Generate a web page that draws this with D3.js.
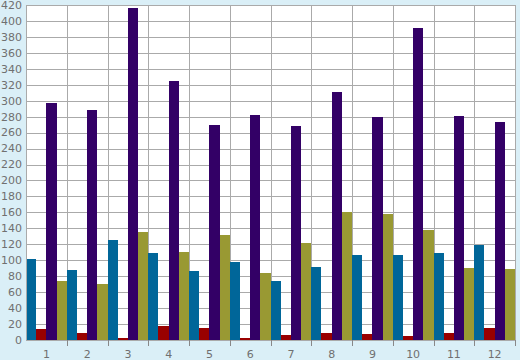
<!DOCTYPE html>
<html>
<head>
<meta charset="utf-8">
<script src="https://cdn.jsdelivr.net/npm/d3@7"></script>
<style>
  html, body { margin: 0; padding: 0; background: #daeff7; }
  svg { display: block; }
  text { font-family: "DejaVu Sans", sans-serif; font-size: 11px; fill: #707070; }
</style>
</head>
<body>
<script>
const categories = ["1","2","3","4","5","6","7","8","9","10","11","12"];
const blueValues   = [101, 88, 125, 109, 86, 98, 74, 92, 107, 107, 109, 119];
const redValues    = [14, 9, 3, 18, 15, 2, 6, 9, 8, 5, 9, 15];
const purpleValues = [297, 288, 416, 325, 270, 282, 268, 311, 280, 391, 281, 273];
const oliveValues  = [74, 70, 135, 110, 132, 84, 122, 160, 158, 138, 90, 89];
const yTicks = d3.range(0, 421, 20);

const seriesValues = [blueValues, redValues, purpleValues, oliveValues];
const colors = ["#006699", "#990000", "#330066", "#999933"];

const W = 520, H = 360;
const mLeft = 26, mRight = 515, mTop = 5, mBottom = 340;

const svg = d3.select("body").append("svg").attr("width", W).attr("height", H);

const x = d3.scaleBand().domain(categories).range([mLeft, mRight]).padding(0);
const xs = d3.scaleBand().domain(d3.range(seriesValues.length)).range([0, x.bandwidth()]).padding(0);
const y = d3.scaleLinear().domain([0, 420]).range([mBottom, mTop]);

// plot background
svg.append("rect").attr("x", mLeft).attr("y", mTop).attr("width", mRight - mLeft).attr("height", mBottom - mTop).attr("fill", "#ffffff");

// horizontal grid
svg.append("g").selectAll("line").data(yTicks).join("line")
  .attr("x1", mLeft).attr("x2", mRight + 1)
  .attr("y1", d => Math.round(y(d)) + 0.5).attr("y2", d => Math.round(y(d)) + 0.5)
  .attr("stroke", "#aaaaaa").attr("stroke-width", 1);

// vertical grid at category boundaries
const bounds = categories.map(c => x(c)).concat([mRight]);
svg.append("g").selectAll("line").data(bounds).join("line")
  .attr("x1", d => Math.round(d) + 0.5).attr("x2", d => Math.round(d) + 0.5)
  .attr("y1", mTop).attr("y2", mBottom)
  .attr("stroke", "#aaaaaa").attr("stroke-width", 1);

// bars
const rows = [];
categories.forEach((c, i) => seriesValues.forEach((s, j) => rows.push({c, j, v: s[i]})));
svg.append("g").selectAll("rect").data(rows).join("rect")
  .attr("x", d => x(d.c) + xs(d.j))
  .attr("width", xs.bandwidth())
  .attr("y", d => y(d.v))
  .attr("height", d => y(0) - y(d.v))
  .attr("fill", d => colors[d.j])
  .attr("shape-rendering", "crispEdges");

// left axis line
svg.append("line").attr("x1", mLeft + 0.5).attr("x2", mLeft + 0.5).attr("y1", mTop).attr("y2", mBottom + 1)
  .attr("stroke", "#aaaaaa");

// y labels
svg.append("g").selectAll("text").data(yTicks).join("text")
  .attr("x", 22).attr("y", d => y(d)).attr("dy", "0.35em")
  .attr("text-anchor", "end").text(d => d);

// x tick marks at boundaries
svg.append("g").selectAll("line").data(bounds.slice(1)).join("line")
  .attr("x1", d => Math.round(d) + 0.5).attr("x2", d => Math.round(d) + 0.5)
  .attr("y1", mBottom).attr("y2", mBottom + 6)
  .attr("stroke", "#888888");

// x labels
svg.append("g").selectAll("text").data(categories).join("text")
  .attr("x", d => x(d) + x.bandwidth() / 2).attr("y", 358)
  .attr("text-anchor", "middle").text(d => d);
</script>
</body>
</html>
